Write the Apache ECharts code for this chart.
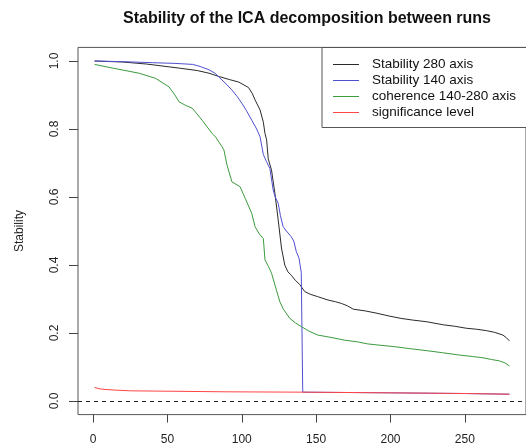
<!DOCTYPE html>
<html>
<head>
<meta charset="utf-8">
<script src="https://cdn.jsdelivr.net/npm/echarts@6/dist/echarts.min.js"></script>
<style>html,body{margin:0;padding:0;background:#fff}#c{width:526px;height:447px}</style>
</head>
<body>
<div id="c"></div>
<script>
const titleText = 'Stability of the ICA decomposition between runs';
const yAxisName = 'Stability';
const xTicks = [0, 50, 100, 150, 200, 250];
const yTicks = [0, 0.2, 0.4, 0.6, 0.8, 1.0];
const seriesNames = ['Stability 280 axis', 'Stability 140 axis', 'coherence 140-280 axis', 'significance level'];

const blackX = [1, 20, 36, 58, 70, 78, 85, 92, 98, 104.5, 107, 109, 112.3, 114.5, 115.6, 116.7, 117.8, 120, 122.3, 124.5, 126.7, 128.9, 131, 133.3, 136, 138.9, 142.3, 146, 151, 158, 163, 167, 171, 175, 183, 191, 199, 207, 215, 224.5, 235.6, 243, 251, 258, 264.5, 270, 275.6, 278, 280];
const blackY = [1.0, 0.997, 0.991, 0.979, 0.972, 0.964, 0.954, 0.945, 0.938, 0.922, 0.905, 0.885, 0.856, 0.820, 0.787, 0.768, 0.712, 0.679, 0.610, 0.532, 0.450, 0.400, 0.380, 0.370, 0.355, 0.343, 0.322, 0.314, 0.307, 0.297, 0.292, 0.287, 0.280, 0.270, 0.265, 0.258, 0.250, 0.243, 0.238, 0.233, 0.224, 0.220, 0.214, 0.211, 0.207, 0.202, 0.194, 0.186, 0.177];

const blueX = [1, 20, 40, 55, 67, 72, 78, 82, 86.7, 90, 93.3, 97, 100, 103, 106.7, 110, 112.3, 114.5, 116.5, 118.9, 121.1, 122.5, 124.5, 126, 127.8, 130, 133.3, 135, 136.7, 138.5, 140, 141, 200, 250, 280];
const blueY = [1.0, 0.998, 0.995, 0.993, 0.990, 0.984, 0.974, 0.964, 0.944, 0.930, 0.915, 0.895, 0.876, 0.855, 0.826, 0.800, 0.777, 0.725, 0.705, 0.684, 0.621, 0.600, 0.581, 0.545, 0.513, 0.500, 0.483, 0.470, 0.439, 0.420, 0.378, 0.026, 0.024, 0.022, 0.020];

const greenX = [1, 13.3, 31, 42, 51, 55, 57.8, 62, 66.7, 73.3, 80, 82.3, 86.7, 88, 90, 93.3, 98.9, 102.3, 106.7, 108.9, 112, 114.5, 115.6, 118, 120, 123.3, 125.6, 128, 132.3, 136, 140, 145, 151, 160, 169, 177.8, 184.5, 193, 202.3, 213, 224.5, 235, 246.7, 255, 262.3, 268, 273.3, 277, 280];
const greenY = [0.990, 0.979, 0.964, 0.949, 0.924, 0.900, 0.880, 0.870, 0.861, 0.826, 0.787, 0.777, 0.748, 0.738, 0.695, 0.645, 0.630, 0.596, 0.552, 0.513, 0.490, 0.478, 0.415, 0.395, 0.376, 0.326, 0.292, 0.270, 0.243, 0.230, 0.219, 0.206, 0.194, 0.187, 0.179, 0.174, 0.168, 0.164, 0.160, 0.154, 0.148, 0.142, 0.135, 0.131, 0.127, 0.122, 0.118, 0.112, 0.103];

const redX = [1, 4, 8, 15, 25, 45, 90, 141, 200, 250, 280];
const redY = [0.040, 0.036, 0.034, 0.032, 0.030, 0.029, 0.027, 0.026, 0.024, 0.022, 0.020];

const colors = ['#2a2a2a', '#4f4fd2', '#3d9a3d', '#ff4545'];
const pairs = (xs, ys) => xs.map((x, i) => [x, ys[i]]);
const seriesData = [pairs(blackX, blackY), pairs(blueX, blueY), pairs(greenX, greenY), pairs(redX, redY)];

const chart = echarts.init(document.getElementById('c'), null, {renderer: 'canvas'});
const font = 'Liberation Sans, Arial, sans-serif';
chart.setOption({
  animation: false,
  backgroundColor: '#fff',
  title: {
    text: titleText, left: 302, top: 6, textAlign: 'center',
    textStyle: {fontFamily: font, fontSize: 16, fontWeight: 'bold', color: '#111'}
  },
  grid: {left: 78, right: -4, top: 47.4, bottom: 32.4, show: true, borderColor: '#555', borderWidth: 1, backgroundColor: 'transparent'},
  legend: {
    orient: 'vertical', left: 322, top: 47.5,
    data: seriesNames.map(n => ({name: n, icon: 'rect'})),
    itemWidth: 26, itemHeight: 1, itemGap: 2,
    padding: [10, 30, 8, 11],
    borderColor: '#555', borderWidth: 1, backgroundColor: '#fff',
    textStyle: {fontFamily: font, fontSize: 13.5, color: '#111', lineHeight: 13, padding: [0, 0, 0, 8]}
  },
  xAxis: {
    type: 'value', min: -10.16, max: 291.16,
    splitLine: {show: false},
    axisLine: {show: false, onZero: false},
    axisTick: {show: true, length: 8, lineStyle: {color: '#444'}, customValues: xTicks},
    axisLabel: {fontFamily: font, fontSize: 12, color: '#222', margin: 19, customValues: xTicks}
  },
  yAxis: {
    type: 'value', min: -0.04, max: 1.04,
    name: yAxisName, nameLocation: 'middle', nameRotate: 90, nameGap: 52,
    nameTextStyle: {fontFamily: font, fontSize: 12, color: '#222'},
    splitLine: {show: false},
    axisLine: {show: false, onZero: false},
    axisTick: {show: true, length: 9, lineStyle: {color: '#444'}, customValues: yTicks},
    axisLabel: {fontFamily: font, fontSize: 12, color: '#222', margin: 17, rotate: 90, customValues: yTicks,
      formatter: v => Number(v).toFixed(1)}
  },
  series: seriesNames.map((n, i) => ({
    name: n, type: 'line', data: seriesData[i], showSymbol: false, symbol: 'none',
    lineStyle: {color: colors[i], width: 1}, itemStyle: {color: colors[i]},
    silent: true, z: 2 + i,
    markLine: i === 3 ? {
      silent: true, symbol: 'none', label: {show: false},
      lineStyle: {color: '#222', type: [4, 4], width: 1},
      data: [{yAxis: 0}]
    } : undefined
  }))
});
</script>
</body>
</html>
